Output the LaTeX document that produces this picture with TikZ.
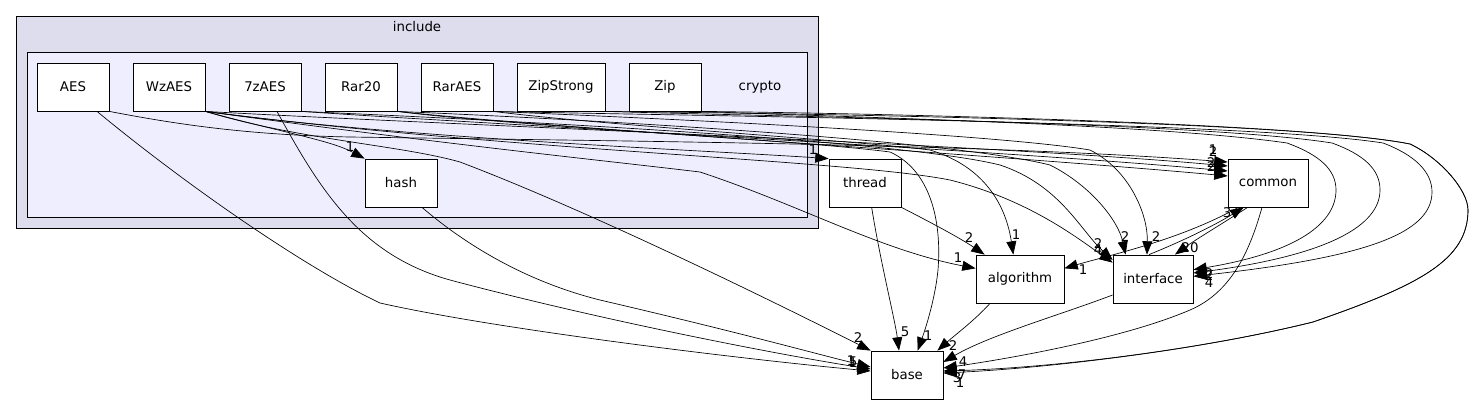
\documentclass[tikz,border=0pt]{standalone}
\usepackage{fontspec}
\setmainfont{DejaVu Sans}
\usepackage{tikz}
\usetikzlibrary{arrows.meta}
\definecolor{outerbg}{RGB}{221,221,238}
\definecolor{innerbg}{RGB}{238,238,255}

\begin{document}
\begin{tikzpicture}[x=0.75pt,y=-0.75pt,font=\fontsize{10}{12}\selectfont]
\tikzset{dir/.style={draw,fill=white,line width=0.6pt,minimum width=54pt,minimum height=36pt,inner sep=0pt},
  clu/.style={draw,line width=0.6pt,inner sep=0pt},
  dep/.style={-{Triangle[length=10pt,width=7.5pt]},line width=0.5pt},
  cnt/.style={inner sep=0pt}}
\useasboundingbox (0,0) rectangle (1475,404);
% clusters
\node[clu,fill=outerbg,minimum width=601.5pt,minimum height=159pt] (include) at (417,122) {};
\node (includelbl) at (417,27) {include};
\node[clu,fill=innerbg,minimum width=585pt,minimum height=123.75pt] (crypto) at (417,134.5) {};
\node (cryptolbl) at (760,87) {crypto};
% directories
\node[dir] (aes) at (73,87) {AES};
\node[dir] (wzaes) at (169,87) {WzAES};
\node[dir] (szaes) at (265,87) {7zAES};
\node[dir] (rar20) at (361,87) {Rar20};
\node[dir] (raraes) at (457,87) {RarAES};
\node[dir,minimum width=66pt] (zipstrong) at (561,87) {ZipStrong};
\node[dir] (zip) at (665,87) {Zip};
\node[dir] (hash) at (401,183) {hash};
\node[dir] (thread) at (865,183) {thread};
\node[dir,minimum width=60pt] (common) at (1268,183) {common};
\node[dir,minimum width=66pt] (algorithm) at (1020,279) {algorithm};
\node[dir,minimum width=60pt] (interface) at (1153,279) {interface};
\node[dir] (base) at (907,375) {base};
% AES
\draw[dep] (aes.south east) .. controls (180,125) and (250,135) .. (350,137)
  .. controls (700,142) and (1000,145) .. ([yshift=15.75pt]common.west) node[cnt,at={(1213,150)}] {1};
\draw[dep] ([xshift=18pt]aes.south) .. controls (180,180) and (300,265) .. (380,303)
  .. controls (500,330) and (750,360) .. ([yshift=3pt]base.west) node[cnt,at={(853,362)}] {5};
% WzAES
\draw[dep] (wzaes.south east) .. controls (280,132) and (330,140) .. (hash.north west) node[cnt,at={(350,147)}] {1};
\draw[dep] (wzaes.south east) .. controls (400,138) and (700,150) .. (thread.north west) node[cnt,at={(813,150)}] {1};
\draw[dep] (wzaes.south east) .. controls (450,125) and (1000,145) .. ([yshift=12.75pt]common.west) node[cnt,at={(1213,152)}] {2};
\draw[dep] (wzaes.south east) .. controls (450,145) and (600,160) .. (700,172)
  .. controls (800,205) and (880,250) .. ([yshift=8pt]algorithm.west) node[cnt,at={(958,258)}] {1};
\draw[dep] (wzaes.south east) .. controls (500,150) and (850,160) .. (950,180)
  .. controls (1030,200) and (1080,240) .. ([yshift=-6pt]interface.north west) node[cnt,at={(1098,244)}] {2};
\draw[dep] (wzaes.south east) .. controls (300,140) and (400,145) .. (460,162)
  .. controls (600,215) and (800,315) .. (base.north west) node[cnt,at={(858,338)}] {2};
% 7zAES
\draw[dep] (szaes.south east) .. controls (500,125) and (1000,150) .. ([yshift=9pt]common.west) node[cnt,at={(1211,163)}] {2};
\draw[dep] (szaes.south east) .. controls (500,120) and (900,140) .. (1000,165)
  .. controls (1060,185) and (1080,230) .. ([yshift=-4pt]interface.north west) node[cnt,at={(1098,250)}] {4};
\draw[dep] ([xshift=9pt]szaes.south) .. controls (320,190) and (360,255) .. (450,280)
  .. controls (600,320) and (780,355) .. ([yshift=4.5pt]base.west) node[cnt,at={(853,363)}] {1};
% Rar20
\draw[dep] (rar20.south east) .. controls (550,128) and (1000,155) .. ([yshift=5.25pt]common.west) node[cnt,at={(1211,167)}] {2};
\draw[dep] (rar20.south east) .. controls (500,125) and (800,140) .. (890,152)
  .. controls (930,170) and (942,220) .. (938,270) .. controls (935,300) and (925,330) .. ([xshift=8pt]base.north) node[cnt,at={(928,336)}] {1};
\draw[dep] (rar20.south east) .. controls (600,120) and (950,140) .. (1050,165)
  .. controls (1090,185) and (1118,220) .. ([xshift=9.75pt]interface.north west) node[cnt,at={(1125,237)}] {2};
% RarAES
\draw[dep] (raraes.south east) .. controls (600,125) and (850,140) .. (930,150)
  .. controls (980,165) and (1005,200) .. ([xshift=-5pt]algorithm.north) node[cnt,at={(1016,235)}] {1};
\draw[dep] (raraes.south east) .. controls (700,120) and (1000,135) .. (1090,150)
  .. controls (1130,170) and (1148,215) .. ([xshift=-4.5pt]interface.north) node[cnt,at={(1156,237)}] {2};
\draw[dep] (raraes.south east) .. controls (700,116) and (1250,122) .. (1383,143)
  .. controls (1415,155) and (1432,172) .. (1432,192) .. controls (1432,235) and (1360,258) .. ([yshift=2pt]interface.east) node[cnt,at={(1209,283)}] {4};
% ZipStrong
\draw[dep] (zipstrong.south east) .. controls (750,116) and (1200,122) .. (1332,143)
  .. controls (1365,155) and (1380,170) .. (1380,190) .. controls (1380,225) and (1330,255) .. ([yshift=4.5pt]interface.east) node[cnt,at={(1209,276)}] {2};
\draw[dep] (zipstrong.south east) .. controls (850,114) and (1300,122) .. (1410,144)
  .. controls (1440,158) and (1468,190) .. (1468,210) .. controls (1468,260) and (1420,285) .. (1313,322)
  .. controls (1200,350) and (1050,368) .. ([yshift=3pt]base.east) node[cnt,at={(957,378)}] {3};
% Zip
\draw[dep] (zip.south east) .. controls (800,116) and (1150,123) .. (1287,143)
  .. controls (1320,155) and (1336,170) .. (1336,190) .. controls (1336,222) and (1300,252) .. ([yshift=7pt]interface.east) node[cnt,at={(1209,274)}] {2};
\draw[dep] (zip.south east) .. controls (850,113) and (1300,122) .. (1410,144)
  .. controls (1440,158) and (1468,190) .. (1468,210) .. controls (1468,260) and (1420,285) .. (1313,322)
  .. controls (1200,350) and (1050,368) .. ([yshift=1.5pt]base.east) node[cnt,at={(960,383)}] {1};
% hash, thread
\draw[dep] ([xshift=15.75pt]hash.south) .. controls (460,240) and (520,280) .. (600,300)
  .. controls (750,335) and (820,355) .. ([yshift=6pt]base.west) node[cnt,at={(851,361)}] {1};
\draw[dep] ([xshift=5pt]thread.south) .. controls (880,260) and (895,320) .. ([xshift=-6pt]base.north) node[cnt,at={(905,332)}] {5};
\draw[dep] (thread.south east) .. controls (930,222) and (960,238) .. ([xshift=6.75pt]algorithm.north west) node[cnt,at={(969,238)}] {2};
% algorithm, interface, common
\draw[dep] ([xshift=-22.5pt]algorithm.south) .. controls (975,320) and (955,335) .. ([xshift=-4.5pt]base.north east) node[cnt,at={(953,346)}] {2};
\draw[dep] ([yshift=-12pt]interface.west) .. controls (1060,315) and (990,335) .. ([yshift=9.75pt]base.east) node[cnt,at={(963,362)}] {4};
\draw[dep] ([xshift=-3pt]interface.north) .. controls (1185,240) and (1215,225) .. ([xshift=12pt]common.south west) node[cnt,at={(1227,213)}] {3};
\draw[dep] ([xshift=15pt]common.south west) .. controls (1220,225) and (1195,240) .. ([xshift=16.5pt]interface.north) node[cnt,at={(1190,248)}] {20};
\draw[dep] ([xshift=8pt]common.south west) .. controls (1180,240) and (1110,255) .. ([yshift=8pt]algorithm.east) node[cnt,at={(1083,270)}] {1};
\draw[dep] ([xshift=-4.5pt]common.south) .. controls (1250,250) and (1232,292) .. (1190,310)
  .. controls (1120,340) and (1000,360) .. ([yshift=5.25pt]base.east) node[cnt,at={(962,375)}] {7};
\end{tikzpicture}
\end{document}
